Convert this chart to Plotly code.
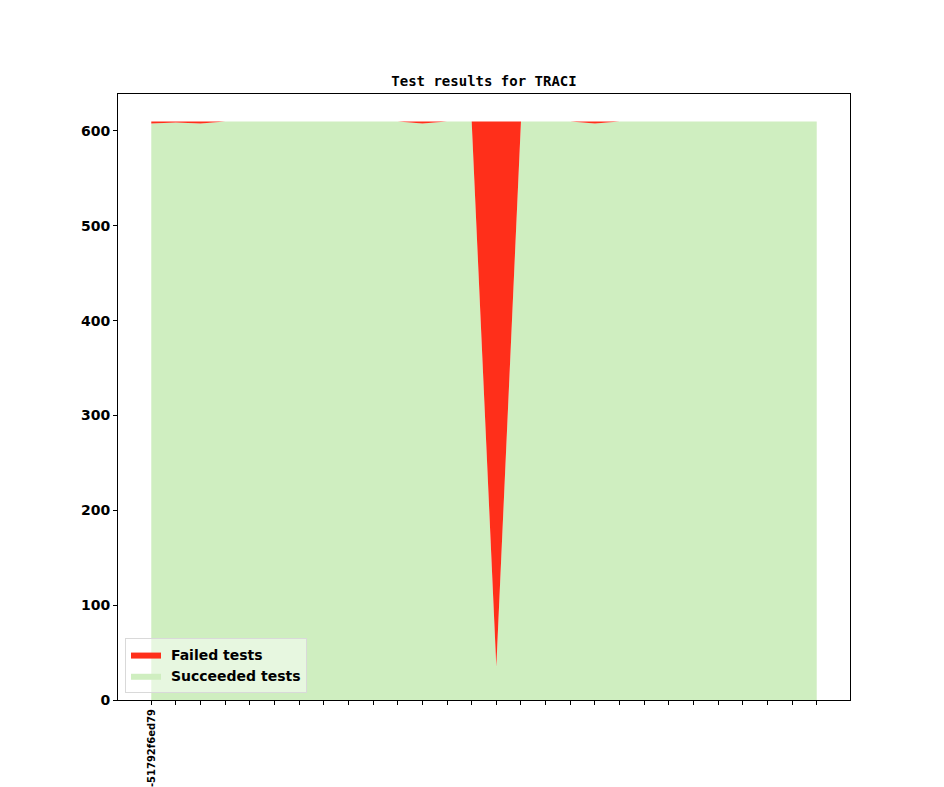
import plotly.graph_objects as go

# Data
commit_labels = ["-51792f6ed79"] + [""] * 27
x_idx = list(range(28))
failed = [2, 1, 2, 0, 0, 0, 0, 0, 0, 0, 0, 2, 0, 0, 575, 0, 0, 0, 2, 0,
          0, 0, 0, 0, 0, 0, 0, 0]
total = [610] * 28
succeeded = [t - f for t, f in zip(total, failed)]

RED = "#ff2f1a"
GREEN = "#cfeec0"
FONT = "DejaVu Sans"

# page body has an 8px default margin; compensate
OFF = 8
W, H = 944 - OFF, 787 - OFF

fig = go.Figure()
fig.add_trace(go.Scatter(
    x=x_idx, y=succeeded, name=" Succeeded tests", mode="lines",
    stackgroup="one", line=dict(width=0, color=GREEN), fillcolor=GREEN,
    hoverinfo="x+y",
))
fig.add_trace(go.Scatter(
    x=x_idx, y=failed, name=" Failed tests", mode="lines",
    stackgroup="one", line=dict(width=0, color=RED), fillcolor=RED,
    hoverinfo="x+y",
))

fig.update_layout(
    width=W, height=H,
    margin=dict(l=118 - OFF, r=94, t=94 - OFF, b=87, autoexpand=False),
    paper_bgcolor="white", plot_bgcolor="white",
    title=dict(text="Test results for TRACI", x=(484 - OFF) / W, xanchor="center",
               y=1 - (81 - OFF) / H, yanchor="middle",
               font=dict(family="DejaVu Sans Mono", size=14, color="black", weight="bold")),
    font=dict(family=FONT, color="black"),
    showlegend=True,
    legend=dict(x=0.0096, y=0.0116, xanchor="left", yanchor="bottom",
                traceorder="reversed", tracegroupgap=0,
                bgcolor="rgba(255,255,255,0.5)", bordercolor="#d9d9d9", borderwidth=1,
                font=dict(family=FONT, size=14, color="black", weight="bold"),
                itemwidth=30),
)
fig.update_xaxes(
    range=[-1.35, 28.35], tickmode="array", tickvals=x_idx, ticktext=commit_labels,
    tickangle=-90, ticks="outside", ticklen=4, tickcolor="black",
    tickfont=dict(family=FONT, size=10, color="black", weight="bold"),
    showline=True, linecolor="black", linewidth=1, mirror=True,
    showgrid=False, zeroline=False, automargin=False,
)
fig.update_yaxes(
    range=[0, 639], tickmode="array", tickvals=[0, 100, 200, 300, 400, 500, 600],
    ticks="outside", ticklen=4, tickcolor="black",
    tickfont=dict(family=FONT, size=14, color="black", weight="bold"),
    showline=True, linecolor="black", linewidth=1, mirror=True,
    showgrid=False, zeroline=False, automargin=False,
)

fig.write_html("out.html")
